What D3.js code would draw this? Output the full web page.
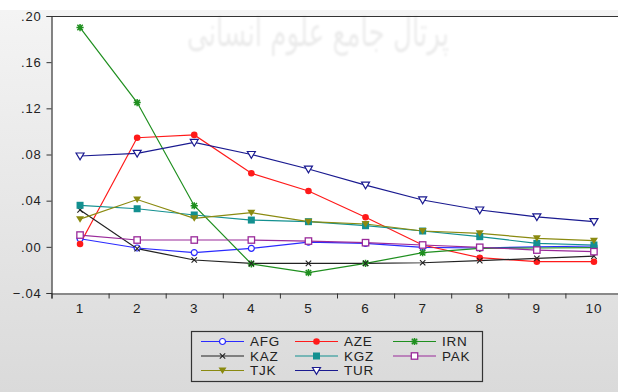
<!DOCTYPE html>
<html>
<head>
<meta charset="utf-8">
<script src="https://cdn.jsdelivr.net/npm/d3@7"></script>
<style>
  html, body { margin: 0; padding: 0; background: #fff; }
  svg { display: block; }
  text { font-family: "Liberation Sans", Arial, sans-serif; }
</style>
</head>
<body>
<svg id="chart" width="618" height="392"></svg>
<script>
// Response periods
const periods = [1, 2, 3, 4, 5, 6, 7, 8, 9, 10];

// Series values per period
const AFG = [0.0070, -0.0010, -0.0050, -0.0013, 0.0040, 0.0030, -0.0004, -0.0010, 0.0000, 0.0007];
const AZE = [0.0024, 0.0945, 0.0970, 0.0637, 0.0484, 0.0256, 0.0016, -0.0094, -0.0129, -0.0129];
const IRN = [0.1900, 0.1250, 0.0356, -0.0148, -0.0224, -0.0143, -0.0051, -0.0013, -0.0010, -0.0006];
const KAZ = [0.0320, -0.0016, -0.0114, -0.0143, -0.0143, -0.0143, -0.0138, -0.0120, -0.0100, -0.0080];
const KGZ = [0.0360, 0.0330, 0.0276, 0.0232, 0.0218, 0.0183, 0.0137, 0.0088, 0.0030, 0.0016];
const PAK = [0.0102, 0.0059, 0.0059, 0.0059, 0.0050, 0.0036, 0.0016, -0.0004, -0.0028, -0.0042];
const TJK = [0.0240, 0.0410, 0.0247, 0.0296, 0.0218, 0.0198, 0.0137, 0.0117, 0.0074, 0.0053];
const TUR = [0.0787, 0.0810, 0.0905, 0.0800, 0.0674, 0.0535, 0.0406, 0.0319, 0.0260, 0.0218];

const seriesNames = ["AFG", "AZE", "IRN", "KAZ", "KGZ", "PAK", "TJK", "TUR"];
const yTicks = [-0.04, 0.00, 0.04, 0.08, 0.12, 0.16, 0.20];

// Styles per series
const styles = {
  AFG: { color: "#2a2aff", marker: "circleOpen" },
  AZE: { color: "#ff1a1a", marker: "circleFilled" },
  IRN: { color: "#1f8f1f", marker: "asterisk" },
  KAZ: { color: "#222222", marker: "cross" },
  KGZ: { color: "#139090", marker: "squareFilled" },
  PAK: { color: "#9a2a9a", marker: "squareOpen" },
  TJK: { color: "#8a8a10", marker: "triFilled" },
  TUR: { color: "#1a1a90", marker: "triOpen" }
};
const values = { AFG, AZE, IRN, KAZ, KGZ, PAK, TJK, TUR };
const series = seriesNames.map(n => ({ name: n, values: values[n], ...styles[n] }));

const svg = d3.select("#chart");
const W = 618, H = 392;

// Background panel with soft gradient
const defs = svg.append("defs");
const grad = defs.append("linearGradient").attr("id", "bg").attr("x1", 0).attr("y1", 0).attr("x2", 0).attr("y2", 1);
grad.append("stop").attr("offset", "0%").attr("stop-color", "#f4f4f4");
grad.append("stop").attr("offset", "100%").attr("stop-color", "#dadada");
defs.append("filter").attr("id", "soft").append("feGaussianBlur").attr("stdDeviation", 1);

svg.append("rect").attr("x", 0).attr("y", 10).attr("width", W).attr("height", H - 10).attr("fill", "url(#bg)");

const x = d3.scaleLinear().domain([0.5, 10.5]).range([51.5, 622.5]);
const y = d3.scaleLinear().domain([-0.04, 0.20]).range([293, 16]);

// Plot area
svg.append("rect").attr("x", 51.5).attr("y", 16).attr("width", W - 51.5).attr("height", 277).attr("fill", "#fff");

// Faint watermark
svg.append("text")
  .attr("x", 318).attr("y", 46)
  .attr("text-anchor", "middle")
  .attr("direction", "rtl")
  .style("font-family", "'DejaVu Sans', sans-serif")
  .style("font-size", "40px")
  .attr("textLength", 262)
  .attr("lengthAdjust", "spacingAndGlyphs")
  .attr("fill", "#000").attr("fill-opacity", 0.08)
  .attr("filter", "url(#soft)")
  .text("پرتال جامع علوم انسانی");

// Frame top line
svg.append("line").attr("x1", 51.5).attr("x2", W).attr("y1", 16.5).attr("y2", 16.5)
  .attr("stroke", "#333").attr("stroke-width", 1.2);

// Y axis
const fmt = v => d3.format(".2f")(v).replace("0.", ".");
const yAxis = d3.axisLeft(y).tickValues(yTicks).tickSize(5).tickPadding(5).tickFormat(fmt);
const gy = svg.append("g").attr("transform", "translate(51.5,0)").call(yAxis);
gy.select(".domain").attr("stroke", "#333").attr("stroke-width", 1.2);
gy.selectAll(".tick line").attr("stroke", "#333");
gy.selectAll(".tick text").attr("fill", "#222").style("font-size", "13px").style("letter-spacing", "0.8px")
  .style("font-family", "'Liberation Sans', Arial, sans-serif");

// X axis: ticks between periods, labels on periods
const xAxis = d3.axisBottom(x).tickValues(d3.range(0.5, 10.6, 1)).tickSize(5).tickFormat("");
const gx = svg.append("g").attr("transform", "translate(0,293.5)").call(xAxis);
gx.select(".domain").attr("stroke", "#333").attr("stroke-width", 1.2);
gx.selectAll(".tick line").attr("stroke", "#333");
svg.append("g").selectAll("text").data(periods).join("text")
  .attr("x", d => x(d)).attr("y", 313)
  .attr("text-anchor", "middle")
  .attr("fill", "#222")
  .style("font-size", "13.5px").style("letter-spacing", "1px")
  .text(d => d);

// Marker drawing
function drawMarker(g, type, color) {
  switch (type) {
    case "circleOpen":
      g.append("circle").attr("r", 3).attr("fill", "#fff").attr("stroke", color).attr("stroke-width", 1.2); break;
    case "circleFilled":
      g.append("circle").attr("r", 3.3).attr("fill", color); break;
    case "squareFilled":
      g.append("rect").attr("x", -3.5).attr("y", -3.5).attr("width", 7).attr("height", 7).attr("fill", color); break;
    case "squareOpen":
      g.append("rect").attr("x", -3.2).attr("y", -3.2).attr("width", 6.4).attr("height", 6.4).attr("fill", "#fff").attr("stroke", color).attr("stroke-width", 1.3); break;
    case "triFilled":
      g.append("path").attr("d", "M-4,-3L4,-3L0,3.5Z").attr("fill", color); break;
    case "triOpen":
      g.append("path").attr("d", "M-4,-3L4,-3L0,3.8Z").attr("fill", "#fff").attr("stroke", color).attr("stroke-width", 1.2); break;
    case "asterisk":
      g.append("path").attr("d", "M-3.6,0L3.6,0M0,-3.6L0,3.6M-2.7,-2.7L2.7,2.7M-2.7,2.7L2.7,-2.7").attr("stroke", color).attr("stroke-width", 1.5); break;
    case "cross":
      g.append("path").attr("d", "M-2.7,-2.7L2.7,2.7M-2.7,2.7L2.7,-2.7").attr("stroke", color).attr("stroke-width", 1.1); break;
  }
}

// Lines and markers
const line = d3.line().x((d, i) => x(periods[i])).y(d => y(d));
const plot = svg.append("g");
series.forEach(s => {
  plot.append("path").datum(s.values).attr("d", line)
    .attr("fill", "none").attr("stroke", s.color).attr("stroke-width", 1.2);
});
series.forEach(s => {
  s.values.forEach((v, i) => {
    const g = plot.append("g").attr("transform", `translate(${x(periods[i])},${y(v)})`);
    drawMarker(g, s.marker, s.color);
  });
});

// Legend
const legend = svg.append("g");
legend.append("rect").attr("x", 191.5).attr("y", 331.5).attr("width", 291).attr("height", 50)
  .attr("fill", "none").attr("stroke", "#333").attr("stroke-width", 1.2);
const colX = [201, 295, 393];
const rowY = [341.5, 356, 370.5];
series.forEach((s, i) => {
  const cx = colX[i % 3], cy = rowY[Math.floor(i / 3)];
  const g = legend.append("g");
  g.append("line").attr("x1", cx).attr("x2", cx + 43).attr("y1", cy).attr("y2", cy)
    .attr("stroke", s.color).attr("stroke-width", 1.2);
  const m = g.append("g").attr("transform", `translate(${cx + 21.5},${cy})`);
  drawMarker(m, s.marker, s.color);
  g.append("text").attr("x", cx + 49).attr("y", cy + 4.8)
    .attr("fill", "#222").style("font-size", "13.5px").style("letter-spacing", "0.8px")
    .text(s.name);
});
</script>
</body>
</html>
